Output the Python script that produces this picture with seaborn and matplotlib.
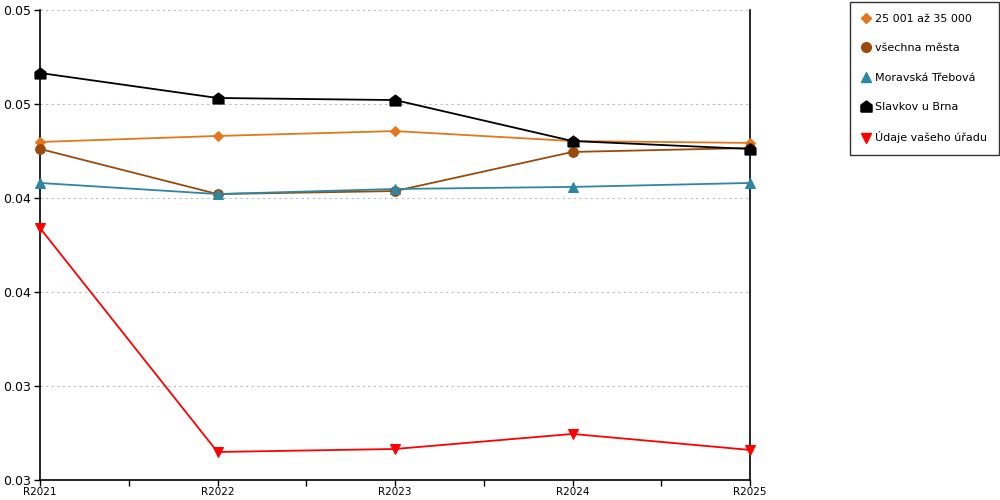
import numpy as np
import pandas as pd
import seaborn as sns
import matplotlib.pyplot as plt
from matplotlib.lines import Line2D

years = ['R2021', 'R2022', 'R2023', 'R2024', 'R2025']

series_names = ['25 001 až 35 000', 'všechna města', 'Moravská Třebová',
                'Slavkov u Brna', 'Údaje vašeho úřadu']
v_25_35 = [0.04298, 0.04330, 0.04356, 0.04303, 0.04293]
v_vsechna = [0.04261, 0.04021, 0.04037, 0.04245, 0.04266]
v_moravska = [0.04080, 0.04021, 0.04048, 0.04059, 0.04080]
v_slavkov = [0.04665, 0.04532, 0.04521, 0.04303, 0.04261]
v_urad = [0.03840, 0.02649, 0.02665, 0.02745, 0.02660]

y_ticks = [0.025, 0.03, 0.035, 0.04, 0.045, 0.05]
y_tick_labels = ['0.03', '0.03', '0.04', '0.04', '0.05', '0.05']

colors = ['#e4761c', '#9a4a0c', '#2e87a0', '#000000', '#ff0000']
house = [(-1, -1), (1, -1), (1, 0.25), (0, 1), (-1, 0.25), (-1, -1)]
markers = ['D', 'o', '^', house, 'v']
msizes = [5.5, 7, 7.5, 8, 7.5]

sns.set_style('white')
plt.rcParams['font.family'] = ['DejaVu Sans']
plt.rcParams['text.color'] = 'black'
plt.rcParams['xtick.color'] = 'black'
plt.rcParams['ytick.color'] = 'black'

fig = plt.figure(figsize=(10, 5), dpi=100)
ax = fig.add_axes([0.04, 0.04, 0.71, 0.94])

values = [v_25_35, v_vsechna, v_moravska, v_slavkov, v_urad]
x = np.arange(len(years))
for name, vals, c, m, ms in zip(series_names, values, colors, markers, msizes):
    df = pd.DataFrame({'x': x, 'y': vals})
    sns.lineplot(data=df, x='x', y='y', ax=ax, color=c, marker=m,
                 markersize=ms, markeredgecolor=c, linewidth=1.3,
                 clip_on=False, zorder=3)

ax.set_xlim(0, 4)
ax.set_ylim(0.025, 0.05)
ax.set_xticks(x)
ax.set_xticklabels(years, fontsize=7.5)
ax.set_xticks(x[:-1] + 0.5, minor=True)
ax.set_yticks(y_ticks)
ax.set_yticklabels(y_tick_labels, fontsize=9)
ax.set_xlabel('')
ax.set_ylabel('')

ax.yaxis.grid(True, color='#bbbbbb', linestyle=(0, (2, 3)), linewidth=0.8)
ax.xaxis.grid(False)
for s in ['left', 'bottom', 'right']:
    ax.spines[s].set_visible(True)
    ax.spines[s].set_color('black')
    ax.spines[s].set_linewidth(1.2)
ax.spines['top'].set_visible(False)

ax.tick_params(axis='y', which='major', left=True, direction='out',
               length=4.5, width=1, color='black', pad=2)
ax.tick_params(axis='x', which='both', bottom=True, direction='out',
               length=4.5, width=1, color='black', pad=0.5)

handles = [Line2D([], [], color=c, marker=m, linestyle='None', markersize=ms,
                  markeredgecolor=c)
           for c, m, ms in zip(colors, markers, msizes)]
leg = fig.legend(handles, series_names, loc='upper right',
                 bbox_to_anchor=(0.999, 0.996), frameon=True, fancybox=False,
                 fontsize=8, labelspacing=1.75, handlelength=0.8,
                 handletextpad=0.45, borderpad=1.05, borderaxespad=0)
leg.get_frame().set_edgecolor('black')
leg.get_frame().set_linewidth(1)

fig.savefig('out.png', dpi=100)
